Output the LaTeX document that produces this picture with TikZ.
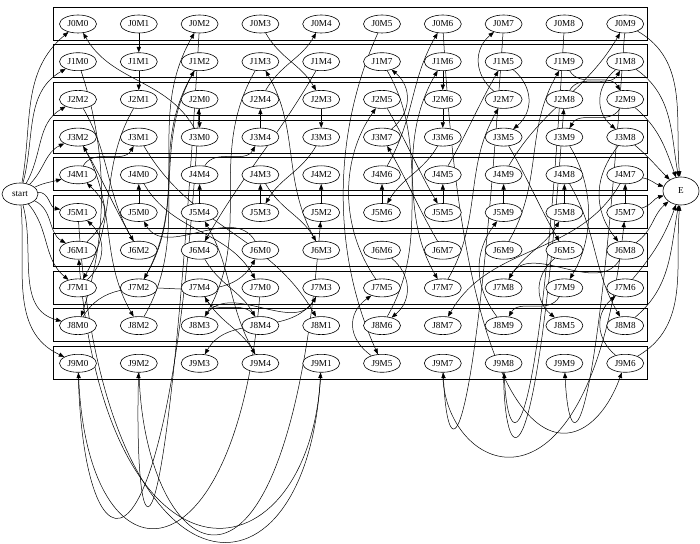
\documentclass[tikz,border=0pt]{standalone}
\usepackage{fontspec}
\setmainfont{Liberation Serif}
\usetikzlibrary{arrows.meta,calc,shapes.geometric}
\pgfdeclarelayer{bg}
\pgfsetlayers{bg,main}
\newcommand\jobrow[2]{%
  \foreach \m [count=\c from 0] in {#2}
    \node[jn,alias=P#1-\c] (J#1M\m) at ({78+60.8*\c},{-24-37.7*#1}) {J#1M\m};}
\begin{document}
\begin{tikzpicture}[x=1bp,y=1bp,
  jn/.style={ellipse,draw,line width=0.6bp,fill=white,minimum width=37bp,minimum height=18bp,inner sep=0pt,font=\fontsize{9.2}{10}\selectfont},
  term/.style={ellipse,draw,line width=0.6bp,fill=white,inner sep=0pt,font=\fontsize{9.2}{10}\selectfont},
  ar/.style={-{Triangle[length=5.5bp,width=4.2bp]},line width=0.5bp},
  clbox/.style={draw,line width=0.75bp},
  fdn/.style={out=-60,in=120},
  fup/.style={out=60,in=-120},
  bdn/.style={out=-120,in=60},
  bup/.style={out=120,in=-60}]
\useasboundingbox (0,0) rectangle (700,-544);
% nodes
\jobrow{0}{0,1,2,3,4,5,6,7,8,9}
\jobrow{1}{0,1,2,3,4,7,6,5,9,8}
\jobrow{2}{2,1,0,4,3,5,6,7,8,9}
\jobrow{3}{2,1,0,4,3,7,6,5,9,8}
\jobrow{4}{1,0,4,3,2,6,5,9,8,7}
\jobrow{5}{1,0,4,3,2,6,5,9,8,7}
\jobrow{6}{1,2,4,0,3,6,7,9,5,8}
\jobrow{7}{1,2,4,0,3,5,7,8,9,6}
\jobrow{8}{0,2,3,4,1,6,7,9,5,8}
\jobrow{9}{0,2,3,4,1,5,7,8,9,6}
\node[term,minimum width=36bp,minimum height=22bp] (start) at (20,-194) {start};
\node[term,minimum width=36bp,minimum height=28bp] (E) at (681,-191) {E};
\begin{pgfonlayer}{bg}
% job clusters
\foreach \r in {0,...,9}
  \draw[clbox] (53,{-24-37.7*\r+17}) rectangle (647,{-24-37.7*\r-16});
% job chains
\foreach \r in {0,...,9}
  \foreach \c [evaluate=\c as \d using int(\c+1)] in {0,...,8}
    \draw[ar] (P\r-\c) -- (P\r-\d);
% start edges
\draw[ar] (start) to[out=80,in=-140] (J0M0);
\draw[ar] (start) to[out=75,in=-150] (J1M0);
\draw[ar] (start) to[out=60,in=-150] (J2M2);
\draw[ar] (start) to[out=45,in=-155] (J3M2);
\draw[ar] (start) to[out=25,in=-165] (J4M1);
\draw[ar] (start) to[out=5,in=170] (J5M1);
\draw[ar] (start) to[out=-25,in=150] (J6M1);
\draw[ar] (start) to[out=-50,in=140] (J7M1);
\draw[ar] (start) to[out=-75,in=165] (J8M0);
\draw[ar] (start) to[out=-85,in=155] (J9M0);
% end edges
\draw[ar] (J0M9) to[out=-30,in=95] (E);
\draw[ar] (J1M8) to[out=-35,in=100] (E);
\draw[ar] (J2M9) to[out=-40,in=110] (E);
\draw[ar] (J3M8) to[out=-40,in=135] (E);
\draw[ar] (J4M7) to[out=-10,in=165] (E);
\draw[ar] (J5M7) to[out=15,in=-165] (E);
\draw[ar] (J6M8) to[out=35,in=-140] (E);
\draw[ar] (J7M6) to[out=50,in=-110] (E);
\draw[ar] (J8M8) to[out=40,in=-100] (E);
\draw[ar] (J9M6) to[out=30,in=-95] (E);
% machine edges: straight
\foreach \a/\b in {J5M0/J4M0,J2M0/J3M0,J0M1/J1M1,J1M1/J2M1,J5M2/J4M2,J2M3/J3M3,J5M3/J4M3,J5M4/J4M4,J3M4/J2M4,J5M5/J4M5,J1M6/J2M6,J2M6/J3M6,J5M6/J4M6,J5M7/J4M7,J5M8/J4M8,J5M9/J4M9}
  \draw[ar] (\a) -- (\b);
% forward down
\foreach \a/\b in {J4M0/J7M0,J3M1/J8M1,J2M2/J6M2,J3M2/J8M2,J0M3/J2M3,J4M3/J6M3,J6M4/J8M4,J7M4/J9M4,J2M5/J5M5,J3M5/J6M5,J1M7/J7M7,J4M8/J8M8,J1M9/J2M9}
  \draw[ar] (\a) to[fdn] (\b);
% forward up
\foreach \a/\b in {J8M0/J6M0,J4M1/J3M1,J8M2/J1M2,J7M2/J0M2,J8M3/J7M3,J4M4/J3M4,J2M4/J0M4,J4M5/J1M5,J8M6/J1M6,J4M6/J0M6,J7M7/J2M7,J2M8/J1M8,J7M8/J5M8,J6M9/J1M9,J4M9/J0M9}
  \draw[ar] (\a) to[fup] (\b);
% backward down
\foreach \a/\b in {J2M1/J7M1,J1M2/J7M2,J3M3/J5M3,J1M3/J8M3,J7M3/J9M3,J1M4/J6M4,J3M6/J5M6,J4M7/J8M7,J6M8/J7M8,J2M9/J3M9,J7M9/J8M9}
  \draw[ar] (\a) to[bdn] (\b);
% backward up
\foreach \a/\b in {J6M0/J5M0,J3M0/J0M0,J6M2/J3M2,J6M3/J1M3,J8M4/J7M4,J9M4/J5M4,J6M7/J3M7}
  \draw[ar] (\a) to[bup] (\b);
% same column, curved
\foreach \a/\b/\p/\q/\u/\v in {J1M0/J8M0/30/-90/30/90,J7M1/J5M1/28/25/28/-25,J6M1/J4M1/32/30/32/-30,
  J0M5/J9M5/-50/-110/-50/110,J9M5/J7M5/-35/25/-35/-25,J7M5/J2M5/-42/60/-42/-60,J1M5/J3M5/30/-25/30/25,
  J6M5/J8M5/-30/-25/-30/25,J6M6/J8M6/30/-25/30/25,J9M6/J7M6/-30/25/-30/-25,J3M7/J1M7/30/25/30/-25,
  J2M7/J0M7/-30/25/-30/-25,J1M8/J3M8/-30/-25/-30/25,J3M8/J6M8/-32/-40/-32/40,J3M9/J7M9/30/-50/30/50,
  J8M9/J5M9/-30/40/-30/-40}
  \draw[ar] (\a) .. controls ($(\a)+(\p,\q)$) and ($(\b)+(\u,\v)$) .. (\b);
% loops under the clusters
\foreach \a/\b/\p/\q/\u/\v in {J7M0/J9M0/-25/-300/10/-230,J9M0/J2M0/5/-220/-30/-520,
  J5M1/J9M1/25/-400/-15/-260,J9M1/J6M1/-10/-220/30/-360,J0M2/J9M2/-35/-600/-5/-200,
  J9M2/J5M2/5/-200/-35/-450,J0M6/J9M6/25/-470/-40/-110,J0M7/J9M7/-30/-450/5/-110,
  J9M7/J5M7/0/-110/-35/-330,J0M8/J9M8/-25/-440/5/-100,J9M8/J2M8/0/-100/-30/-420,
  J0M9/J9M9/-30/-440/5/-100}
  \draw[ar] (\a) .. controls ($(\a)+(\p,\q)$) and ($(\b)+(\u,\v)$) .. (\b);
\end{pgfonlayer}
\end{tikzpicture}
\end{document}
